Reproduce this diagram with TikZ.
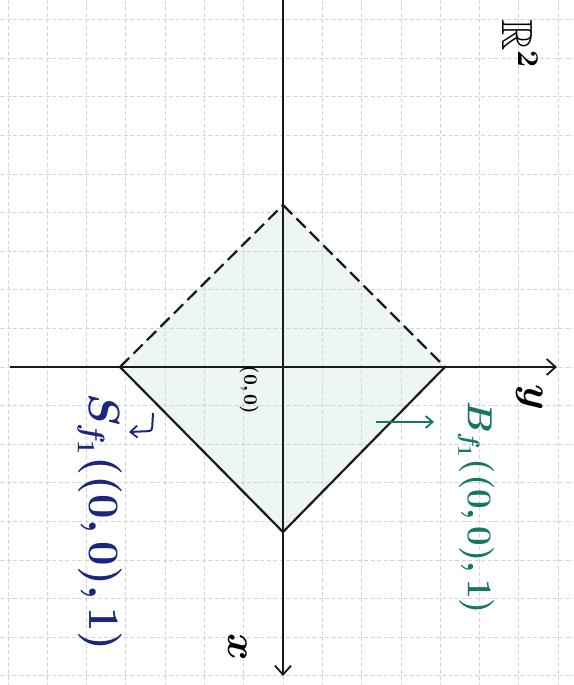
\documentclass[tikz,border=0pt]{standalone}
\usepackage{amssymb}
\usetikzlibrary{arrows.meta}
\definecolor{gridc}{RGB}{212,212,212}
\definecolor{greenlab}{RGB}{22,118,98}
\definecolor{bluelab}{RGB}{28,38,128}
\definecolor{fillc}{RGB}{236,246,242}
\definecolor{inkc}{RGB}{25,25,30}
\tikzset{
  gridline/.style={draw=gridc, line width=0.8pt, dash pattern=on 4pt off 2.5pt},
  axis/.style={draw=inkc, line width=2pt, -{Straight Barb[length=9pt,width=16pt,line width=1.8pt]}},
  edgesolid/.style={draw=inkc, line width=2.2pt, line cap=round},
  edgedash/.style={draw=inkc, line width=2.2pt, dash pattern=on 13pt off 6pt},
  lab/.style={rotate=-90, inner sep=0pt, font=\huge\boldmath},
  ptr/.style={line width=2pt, -{Straight Barb[length=7pt,width=12pt,line width=1.8pt]}}
}
\begin{document}
\begin{tikzpicture}[x=1pt,y=-1pt]
\useasboundingbox (0,0) rectangle (573,685);
\fill[white] (0,0) rectangle (573,685);
% diamond fill
\coordinate (T) at (283,205);
\coordinate (R) at (445,367);
\coordinate (B) at (283,532);
\coordinate (L) at (120,367);
\fill[fillc] (T) -- (R) -- (B) -- (L) -- cycle;
% grid
\foreach \i in {-7,...,7} \draw[gridline] (283+39.3*\i,0) -- (283+39.3*\i,685);
\foreach \j in {-9,...,9} \draw[gridline] (0,367+38.6*\j) -- (573,367+38.6*\j);
% axes
\coordinate (xs) at (283,0);
\coordinate (xe) at (283,676);
\coordinate (ys) at (10,367);
\coordinate (ye) at (557,367);
\draw[axis] (xs) -- (xe);
\draw[axis] (ys) -- (ye);
% diamond edges
\draw[edgedash] (L) -- (T);
\draw[edgedash] (T) -- (R);
\draw[edgesolid] (R) -- (B);
\draw[edgesolid] (B) -- (L);
% labels
\node[lab, scale=2.1] (rr) at (520,44) {$\mathbb{R}^2$};
\node[lab, scale=2.0] (yl) at (530,398) {$y$};
\node[lab, scale=2.0] (xl) at (238,647) {$x$};
\node[lab, font=\normalsize\boldmath, scale=1.9] (o) at (249,390) {$(0,0)$};
\node[lab, text=greenlab, scale=1.68] (bl) at (476,508) {$B_{f_1}((0,0),1)$};
\node[lab, text=bluelab, scale=2.1] (sl) at (100,522) {$S_{f_1}((0,0),1)$};
% pointers
\coordinate (gs) at (376,422);
\coordinate (ge) at (434,422);
\draw[ptr, draw=greenlab] (gs) -- (ge);
\coordinate (bs) at (153,413);
\coordinate (bm) at (152,431);
\coordinate (be) at (129,432);
\draw[ptr, draw=bluelab, rounded corners=3pt] (bs) -- (bm) -- (be);
\end{tikzpicture}
\end{document}
